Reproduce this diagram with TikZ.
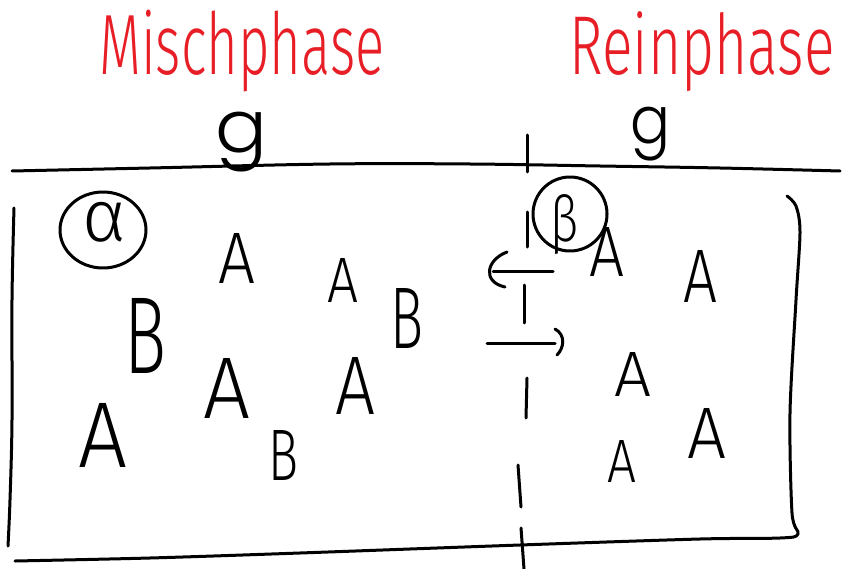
\documentclass[tikz,border=0pt]{standalone}
\usepackage{fontspec}
\setmainfont{Fira Sans}[UprightFont={* Light}]
\newfontfamily\gfont{Poppins}[UprightFont={* Light}]
\definecolor{inkred}{RGB}{232,30,38}
% letter scaled to a given width and total height (in pt)
\newcommand{\glyph}[3]{\resizebox*{#1pt}{#2pt}{#3}}

\begin{document}
\begin{tikzpicture}[x=1pt,y=-1pt,
  ink/.style={line width=3pt, line cap=round, line join=round},
  lbl/.style={inner sep=0pt, outer sep=0pt}]
\useasboundingbox (0,0) rectangle (842,569);

% headings
\node[lbl, text=inkred] (mix) at (242,51) {\glyph{285}{82}{Mischphase}};
\node[lbl, text=inkred] (pure) at (702,52) {\glyph{265}{80}{Reinphase}};
\node[lbl] (gl) at (241,142) {\glyph{52}{60}{\gfont g}};
\node[lbl] (gr) at (650,134) {\glyph{40}{54}{\gfont g}};

% upper boundary line
\draw[ink] plot[smooth, tension=0.6] coordinates
  {(12,171) (150,168) (330,164) (470,164) (600,166) (720,168) (840,171)};

% container: left side, bottom and right bracket
\draw[ink] plot[smooth, tension=0.6] coordinates
  {(14,208) (12,300) (12,420) (10,500) (8,546)};
\draw[ink] plot[smooth, tension=0.5] coordinates
  {(15,561) (150,558) (300,553) (520,545) (700,539) (780,538) (798,534)
   (792,513) (790,413) (796,300) (800,232) (796,206) (787,196)};

% dashed phase boundary
\draw[ink] (527,135) -- (527,172);
\draw[ink] (527,212) -- (527,247);
\draw[ink] (524,285) -- (524,323);
\draw[ink] (527,378) -- (526,418);
\draw[ink] (518,465) -- (521,507);
\draw[ink] (521,528) -- (524,569);

% exchange arrows
\draw[ink] (553,271) -- (493,271);
\draw[ink] (507,252) .. controls (486,260) and (482,282) .. (505,287);
\draw[ink] (487,343) -- (555,343);
\draw[ink] (555,329) .. controls (566,335) and (564,348) .. (557,355);

% phase labels
\draw[ink] (103,230) ellipse [x radius=43, y radius=38];
\node[lbl] (alpha) at (105,222) {\glyph{44}{40}{α}};
\draw[ink] (570,214) circle [radius=37];
\node[lbl] (beta) at (564,225) {\glyph{28}{60}{β}};

% particles in the mixed phase
\node[lbl] (a1) at (237,258) {\glyph{37}{50}{A}};
\node[lbl] (a2) at (343,280) {\glyph{31}{44}{A}};
\node[lbl] (b1) at (407,318) {\glyph{33}{60}{B}};
\node[lbl] (a3) at (227,388) {\glyph{47}{60}{A}};
\node[lbl] (a4) at (355,386) {\glyph{40}{57}{A}};
\node[lbl] (b2) at (283,455) {\glyph{30}{50}{B}};
\node[lbl] (b3) at (146,336) {\glyph{42}{75}{B}};
\node[lbl] (a5) at (103,435) {\glyph{49}{64}{A}};

% particles in the pure phase
\node[lbl] (a6) at (607,252) {\glyph{35}{49}{A}};
\node[lbl] (a7) at (700,276) {\glyph{34}{52}{A}};
\node[lbl] (a8) at (633,374) {\glyph{37}{44}{A}};
\node[lbl] (a9) at (707,433) {\glyph{39}{50}{A}};
\node[lbl] (a10) at (622,461) {\glyph{29}{42}{A}};
\end{tikzpicture}
\end{document}
